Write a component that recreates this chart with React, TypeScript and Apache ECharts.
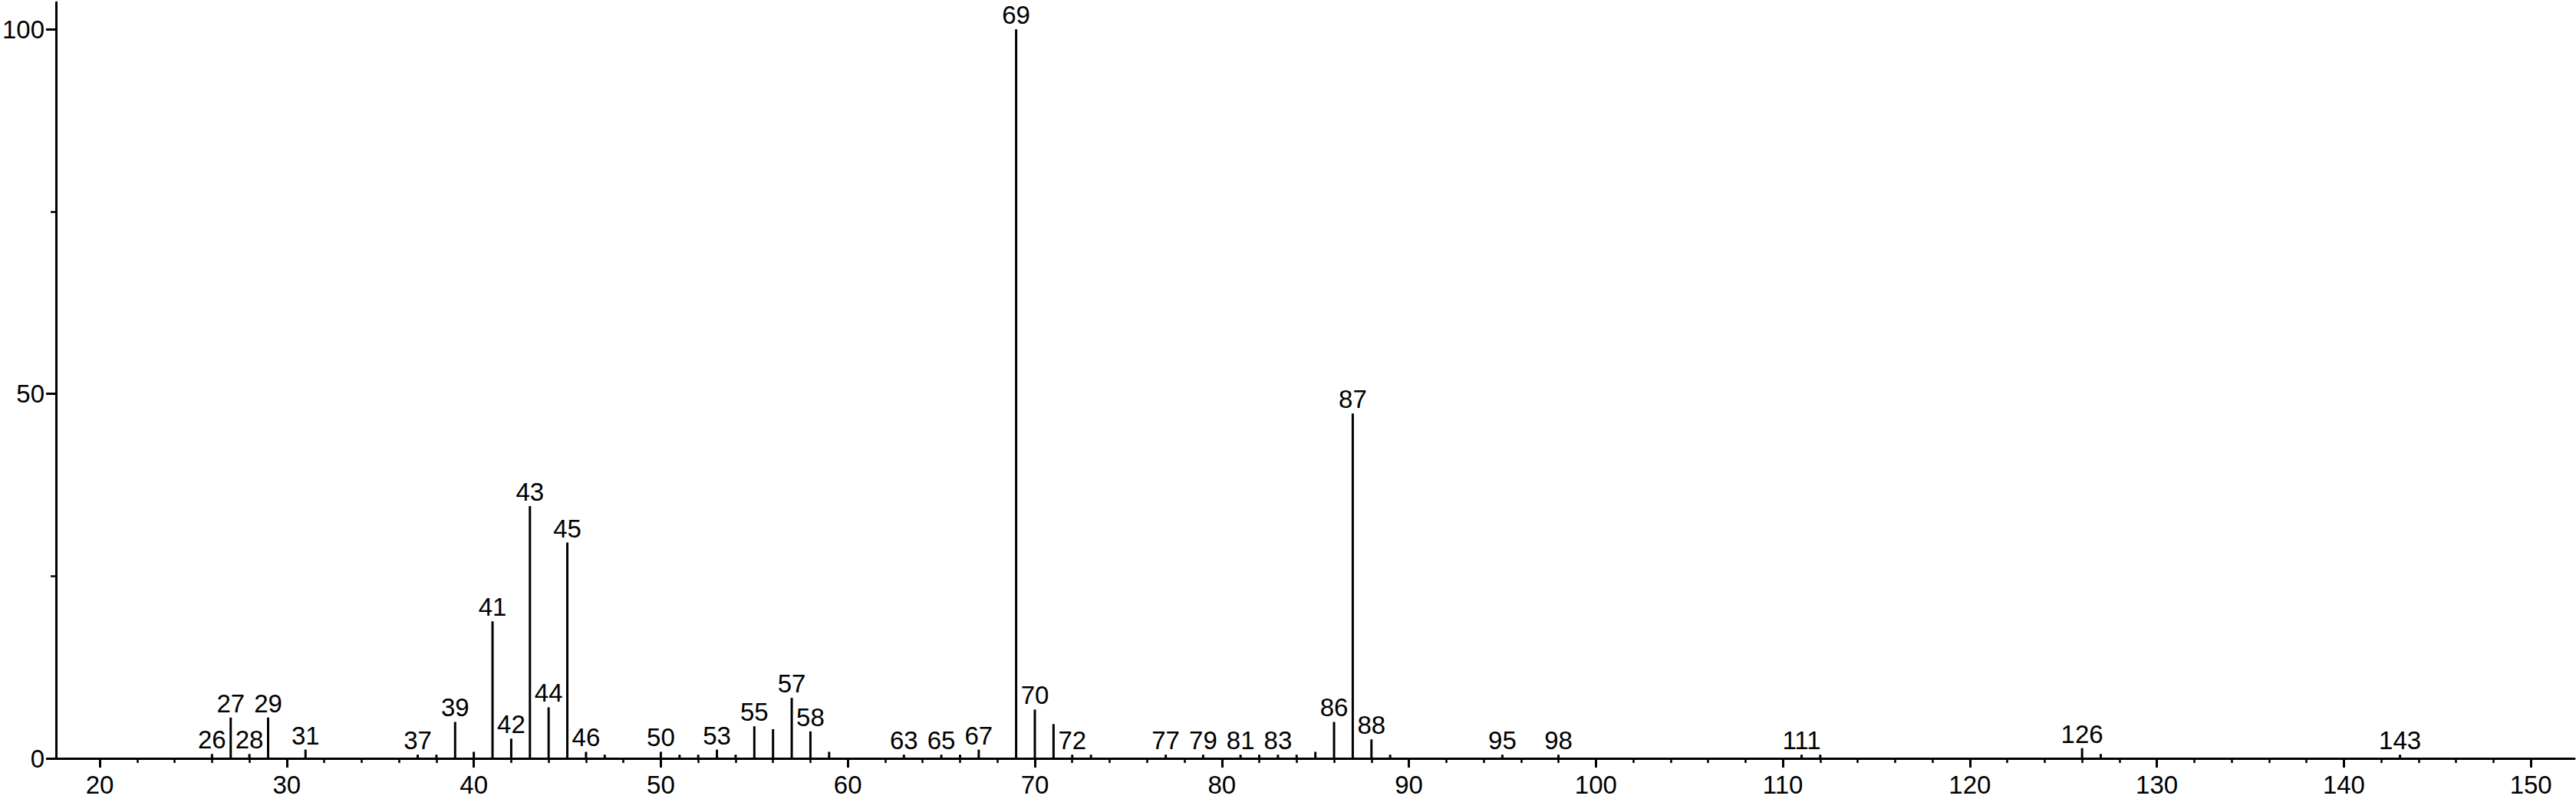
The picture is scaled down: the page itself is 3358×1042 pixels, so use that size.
import React, { useEffect, useRef } from "react";
import * as echarts from "echarts";

// m/z values and relative intensities
const mz = [26, 27, 28, 29, 31, 37, 38, 39, 40, 41, 42, 43, 44, 45, 46, 47, 50, 51, 52, 53, 54, 55, 56, 57, 58, 59, 63, 65, 66, 67, 69, 70, 71, 72, 73, 77, 79, 81, 82, 83, 84, 85, 86, 87, 88, 89, 95, 98, 111, 112, 126, 127, 143];
const intensity = [0.6, 5.6, 0.6, 5.6, 1.2, 0.5, 0.5, 5.0, 0.9, 18.8, 2.7, 34.6, 7.0, 29.6, 0.9, 0.5, 0.9, 0.5, 0.5, 1.2, 0.5, 4.4, 4.0, 8.3, 3.7, 0.9, 0.5, 0.5, 0.5, 1.2, 100, 6.7, 4.7, 0.5, 0.5, 0.5, 0.5, 0.5, 0.5, 0.5, 0.5, 0.9, 5.0, 47.3, 2.6, 0.5, 0.5, 0.5, 0.5, 0.5, 1.4, 0.6, 0.5];
const labeledPeaks = [26, 27, 28, 29, 31, 37, 39, 41, 42, 43, 44, 45, 46, 50, 53, 55, 57, 58, 63, 65, 67, 69, 70, 72, 77, 79, 81, 83, 86, 87, 88, 95, 98, 111, 126, 143];

const xMajorTicks = [20, 30, 40, 50, 60, 70, 80, 90, 100, 110, 120, 130, 140, 150];
const xMinorTicks = [22, 24, 26, 28, 32, 34, 36, 38, 42, 44, 46, 48, 52, 54, 56, 58, 62, 64, 66, 68, 72, 74, 76, 78, 82, 84, 86, 88, 92, 94, 96, 98, 102, 104, 106, 108, 112, 114, 116, 118, 122, 124, 126, 128, 132, 134, 136, 138, 142, 144, 146, 148];
const yMajorTicks = [0, 50, 100];
const yMinorTicks = [25, 75];

const X_MIN = 17.66;
const X_MAX = 152.33;
const Y_MAX = 103.7;

const FONT = "'Liberation Sans', Arial, Helvetica, sans-serif";

export default function App() {
  const ref = useRef<HTMLDivElement>(null);
  useEffect(() => {
    if (!ref.current) return;
    const chart = echarts.init(ref.current, null, { renderer: "svg" });
    const data = mz.map((m, i) => ({
      value: [m, intensity[i]],
      label: { show: labeledPeaks.includes(m) },
    }));
    chart.setOption({
      animation: false,
      backgroundColor: "#ffffff",
      grid: { left: 69, right: 2, top: 3, bottom: 53, containLabel: false },
      xAxis: [
        {
          type: "value",
          min: X_MIN,
          max: X_MAX,
          axisLine: { show: true, onZero: false, lineStyle: { color: "#000", width: 3 } },
          axisTick: { show: true, customValues: xMajorTicks, length: 12, lineStyle: { color: "#000", width: 3 } },
          axisLabel: { show: true, customValues: xMajorTicks, margin: 18, fontSize: 33, color: "#000", fontFamily: FONT },
          splitLine: { show: false },
        },
        {
          type: "value",
          min: X_MIN,
          max: X_MAX,
          position: "bottom",
          axisLine: { show: false },
          axisTick: { show: true, customValues: xMinorTicks, length: 6, lineStyle: { color: "#000", width: 2.5 } },
          axisLabel: { show: false },
          splitLine: { show: false },
        },
      ],
      yAxis: [
        {
          type: "value",
          min: 0,
          max: Y_MAX,
          axisLine: { show: true, onZero: false, lineStyle: { color: "#000", width: 3 } },
          axisTick: { show: true, customValues: yMajorTicks, length: 13, lineStyle: { color: "#000", width: 3 } },
          axisLabel: { show: true, customValues: yMajorTicks, margin: 15, fontSize: 33, color: "#000", fontFamily: FONT },
          splitLine: { show: false },
        },
        {
          type: "value",
          min: 0,
          max: Y_MAX,
          position: "left",
          axisLine: { show: false },
          axisTick: { show: true, customValues: yMinorTicks, length: 7, lineStyle: { color: "#000", width: 2.5 } },
          axisLabel: { show: false },
          splitLine: { show: false },
        },
      ],
      series: [
        {
          type: "bar",
          xAxisIndex: 0,
          yAxisIndex: 0,
          barWidth: 3,
          itemStyle: { color: "#000" },
          label: {
            position: "top",
            distance: 2,
            fontSize: 33,
            color: "#000",
            fontFamily: FONT,
            formatter: (p: any) => String(p.value[0]),
          },
          data,
        },
      ],
    });
    return () => chart.dispose();
  }, []);
  return (
    <div
      ref={ref}
      style={{ position: "absolute", left: 0, top: 0, width: 3358, height: 1042, background: "#fff" }}
    />
  );
}
